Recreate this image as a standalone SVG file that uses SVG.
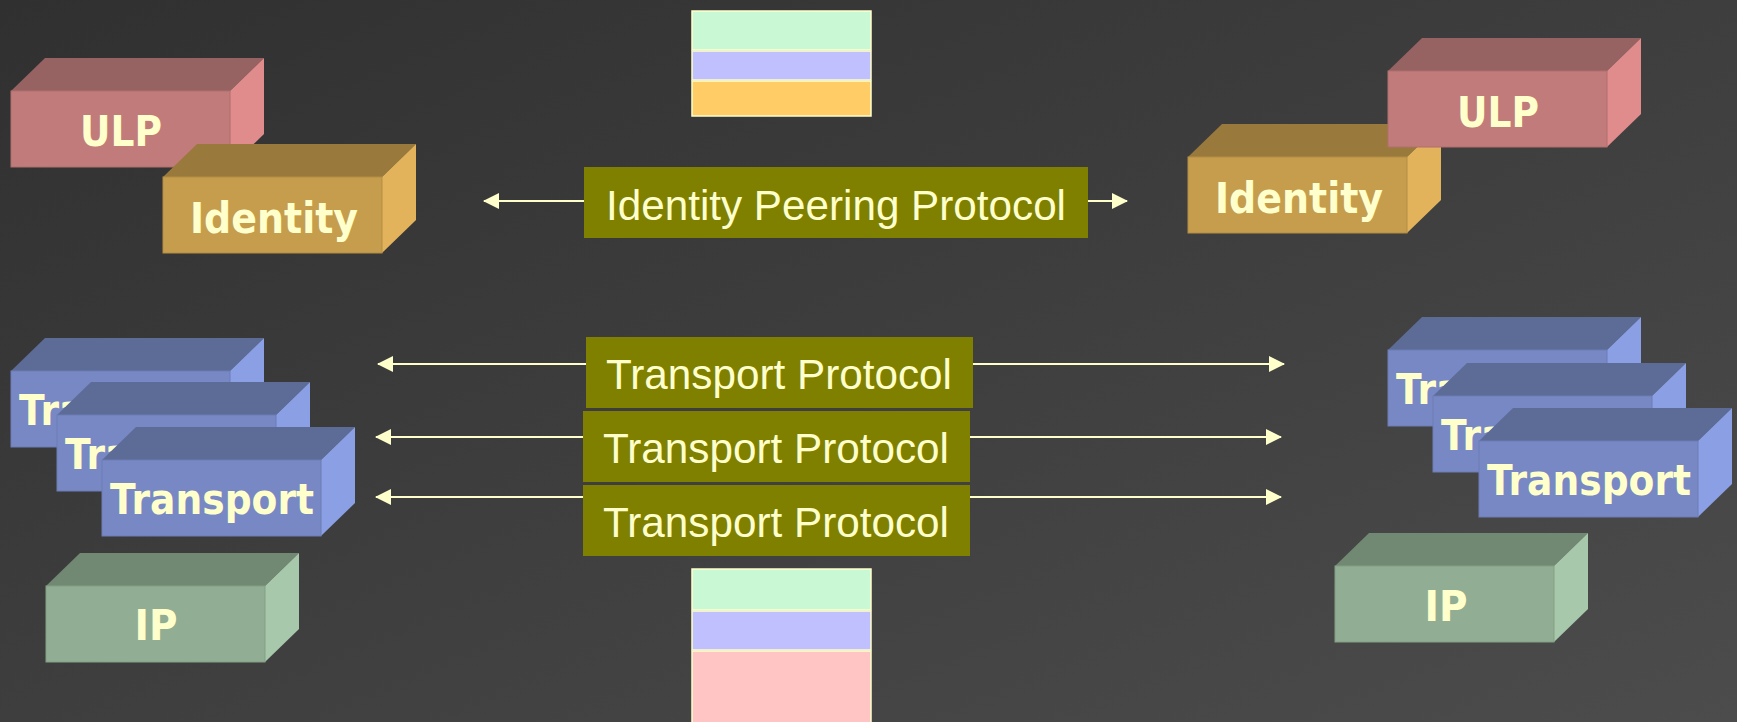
<svg xmlns="http://www.w3.org/2000/svg" width="1737" height="722" viewBox="0 0 1737 722">
<defs>
<linearGradient id="bg" x1="0" y1="0" x2="1" y2="1">
<stop offset="0" stop-color="#303030"/>
<stop offset="1" stop-color="#4c4c4c"/>
</linearGradient>
<marker id="ah" viewBox="0 0 16 16" refX="15" refY="8" markerWidth="16" markerHeight="16" markerUnits="userSpaceOnUse" orient="auto-start-reverse">
<path d="M0,0 L16,8 L0,16 Z" fill="#FFFFCC"/>
</marker>
</defs>
<style>
.lbl{font-family:"DejaVu Sans",Verdana,sans-serif;font-weight:bold;font-size:42px;fill:#FFFFCC;text-anchor:middle}
.plbl{font-family:"Liberation Sans",Arial,sans-serif;font-size:42px;fill:#FFFFCC;text-anchor:middle}
.ulp .front{fill:#C27B7B;stroke:#B06E6E;stroke-width:1}
.ulp .top{fill:#966262}
.ulp .side{fill:#E08C8C}
.idn .front{fill:#C59D4D;stroke:#B38E44;stroke-width:1}
.idn .top{fill:#997A3C}
.idn .side{fill:#E2B35A}
.trn .front{fill:#7888C4;stroke:#6C7CB4;stroke-width:1}
.trn .top{fill:#5D6B97}
.trn .side{fill:#8A9FE4}
.ip .front{fill:#91AD93;stroke:#82A084;stroke-width:1}
.ip .top{fill:#718872}
.ip .side{fill:#A8C8AC}
.proto{fill:#808000}
.conn line{stroke:#FFFFCC;stroke-width:2;marker-start:url(#ah);marker-end:url(#ah)}
.stk rect{stroke:#FFFFCC;stroke-width:1.5}
</style>
<rect x="0" y="0" width="1737" height="722" fill="url(#bg)"/>

<g id="connectors" class="conn">
<line x1="484" y1="201" x2="1127" y2="201"/>
<line x1="378" y1="364" x2="1284" y2="364"/>
<line x1="376" y1="437" x2="1281" y2="437"/>
<line x1="376" y1="497" x2="1281" y2="497"/>
</g>

<g id="stack-top" class="stk">
<rect x="692" y="11" width="179" height="39" fill="#C8F8D4"/>
<rect x="692" y="51" width="179" height="29" fill="#C0C0FF"/>
<rect x="692" y="81" width="179" height="35" fill="#FFCC66"/>
</g>
<g id="stack-bottom" class="stk">
<rect x="692" y="569" width="179" height="41" fill="#C8F8D4"/>
<rect x="692" y="611" width="179" height="39" fill="#C0C0FF"/>
<rect x="692" y="651" width="179" height="80" fill="#FFC4C4"/>
</g>

<g id="ulp-left" class="ulp">
<g transform="translate(11,91)"><polygon class="top" points="0,0 34,-33 253,-33 219,0"/><polygon class="side" points="219,0 253,-33 253,43 219,76"/><rect class="front" width="219" height="76"/></g>
<text class="lbl" x="121" y="146" textLength="82" lengthAdjust="spacingAndGlyphs">ULP</text>
</g>
<g id="identity-left" class="idn">
<g transform="translate(163,177)"><polygon class="top" points="0,0 34,-33 253,-33 219,0"/><polygon class="side" points="219,0 253,-33 253,43 219,76"/><rect class="front" width="219" height="76"/></g>
<text class="lbl" x="274" y="233" textLength="168" lengthAdjust="spacingAndGlyphs">Identity</text>
</g>

<g id="identity-right" class="idn">
<g transform="translate(1188,157)"><polygon class="top" points="0,0 34,-33 253,-33 219,0"/><polygon class="side" points="219,0 253,-33 253,43 219,76"/><rect class="front" width="219" height="76"/></g>
<text class="lbl" x="1299" y="213" textLength="168" lengthAdjust="spacingAndGlyphs">Identity</text>
</g>
<g id="ulp-right" class="ulp">
<g transform="translate(1388,71)"><polygon class="top" points="0,0 34,-33 253,-33 219,0"/><polygon class="side" points="219,0 253,-33 253,43 219,76"/><rect class="front" width="219" height="76"/></g>
<text class="lbl" x="1498" y="127" textLength="82" lengthAdjust="spacingAndGlyphs">ULP</text>
</g>

<g id="transport-left-1" class="trn">
<g transform="translate(11,371)"><polygon class="top" points="0,0 34,-33 253,-33 219,0"/><polygon class="side" points="219,0 253,-33 253,43 219,76"/><rect class="front" width="219" height="76"/></g>
<text class="lbl" x="121" y="425" textLength="204" lengthAdjust="spacingAndGlyphs">Transport</text>
</g>
<g id="transport-left-2" class="trn">
<g transform="translate(57,415)"><polygon class="top" points="0,0 34,-33 253,-33 219,0"/><polygon class="side" points="219,0 253,-33 253,43 219,76"/><rect class="front" width="219" height="76"/></g>
<text class="lbl" x="167" y="469" textLength="204" lengthAdjust="spacingAndGlyphs">Transport</text>
</g>
<g id="transport-left-3" class="trn">
<g transform="translate(102,460)"><polygon class="top" points="0,0 34,-33 253,-33 219,0"/><polygon class="side" points="219,0 253,-33 253,43 219,76"/><rect class="front" width="219" height="76"/></g>
<text class="lbl" x="212" y="514" textLength="204" lengthAdjust="spacingAndGlyphs">Transport</text>
</g>
<g id="ip-left" class="ip">
<g transform="translate(46,586)"><polygon class="top" points="0,0 34,-33 253,-33 219,0"/><polygon class="side" points="219,0 253,-33 253,43 219,76"/><rect class="front" width="219" height="76"/></g>
<text class="lbl" x="156" y="640" textLength="43" lengthAdjust="spacingAndGlyphs">IP</text>
</g>

<g id="transport-right-1" class="trn">
<g transform="translate(1388,350)"><polygon class="top" points="0,0 34,-33 253,-33 219,0"/><polygon class="side" points="219,0 253,-33 253,43 219,76"/><rect class="front" width="219" height="76"/></g>
<text class="lbl" x="1498" y="404" textLength="204" lengthAdjust="spacingAndGlyphs">Transport</text>
</g>
<g id="transport-right-2" class="trn">
<g transform="translate(1433,396)"><polygon class="top" points="0,0 34,-33 253,-33 219,0"/><polygon class="side" points="219,0 253,-33 253,43 219,76"/><rect class="front" width="219" height="76"/></g>
<text class="lbl" x="1543" y="450" textLength="204" lengthAdjust="spacingAndGlyphs">Transport</text>
</g>
<g id="transport-right-3" class="trn">
<g transform="translate(1479,441)"><polygon class="top" points="0,0 34,-33 253,-33 219,0"/><polygon class="side" points="219,0 253,-33 253,43 219,76"/><rect class="front" width="219" height="76"/></g>
<text class="lbl" x="1589" y="495" textLength="204" lengthAdjust="spacingAndGlyphs">Transport</text>
</g>
<g id="ip-right" class="ip">
<g transform="translate(1335,566)"><polygon class="top" points="0,0 34,-33 253,-33 219,0"/><polygon class="side" points="219,0 253,-33 253,43 219,76"/><rect class="front" width="219" height="76"/></g>
<text class="lbl" x="1446" y="621" textLength="43" lengthAdjust="spacingAndGlyphs">IP</text>
</g>

<g id="identity-peering">
<rect class="proto" x="584" y="167" width="504" height="71"/>
<text class="plbl" x="836" y="220" textLength="460" lengthAdjust="spacingAndGlyphs">Identity Peering Protocol</text>
</g>
<g id="transport-protocol-1">
<rect class="proto" x="586" y="337" width="387" height="71"/>
<text class="plbl" x="779" y="389" textLength="346" lengthAdjust="spacingAndGlyphs">Transport Protocol</text>
</g>
<g id="transport-protocol-2">
<rect class="proto" x="583" y="411" width="387" height="71"/>
<text class="plbl" x="776" y="463" textLength="346" lengthAdjust="spacingAndGlyphs">Transport Protocol</text>
</g>
<g id="transport-protocol-3">
<rect class="proto" x="583" y="485" width="387" height="71"/>
<text class="plbl" x="776" y="537" textLength="346" lengthAdjust="spacingAndGlyphs">Transport Protocol</text>
</g>
</svg>
